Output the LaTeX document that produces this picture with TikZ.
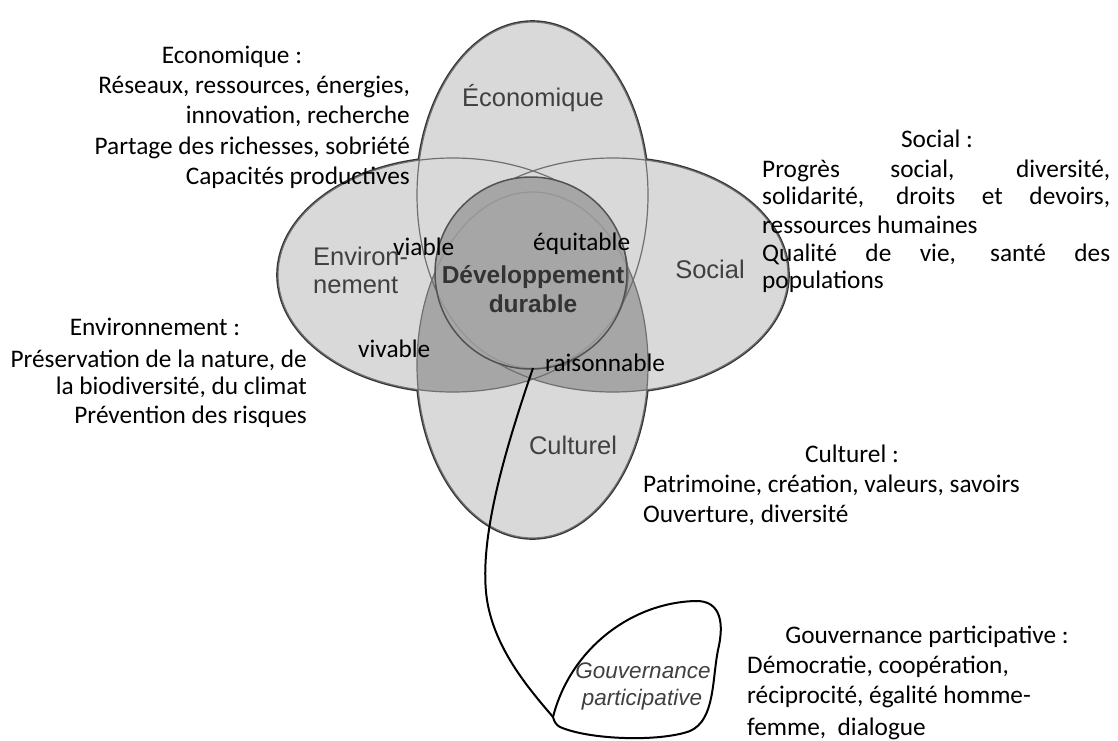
\documentclass[tikz,border=0pt]{standalone}
\usepackage{fontspec}
\setmainfont{Carlito}
\newfontfamily\hv{Liberation Sans}
\definecolor{lightg}{HTML}{D9D9D9}
\definecolor{darkg}{HTML}{A6A6A6}
\definecolor{edgec}{HTML}{333333}
\definecolor{innerc}{HTML}{707070}
\definecolor{lblc}{HTML}{404040}
\begin{document}
\begin{tikzpicture}[x=1pt,y=-1pt,
  econ/.style={insert path={(532.5,195) ellipse [x radius=115.5pt, y radius=173pt]}},
  cult/.style={insert path={(532.5,365) ellipse [x radius=115.5pt, y radius=173pt]}},
  envi/.style={insert path={(453,275) ellipse [x radius=175pt, y radius=117pt]}},
  soci/.style={insert path={(613,275) ellipse [x radius=175pt, y radius=117pt]}},
  dd/.style={insert path={(531,273) circle [radius=96pt]}},
  txt/.style={font=\fontsize{25.3}{30}\selectfont, inner sep=0pt, text=black},
  lab/.style={font=\hv\fontsize{25.5}{28}\selectfont, inner sep=0pt, text=lblc},
  blab/.style={font=\hv\bfseries\fontsize{24.5}{28}\selectfont, inner sep=0pt, text=edgec},
  glab/.style={font=\hv\itshape\fontsize{22.5}{26}\selectfont, inner sep=0pt, text=lblc},
  outer/.style={draw=edgec, line width=3.6pt},
  innerl/.style={draw=innerc, line width=1.2pt},
  stemline/.style={draw=black, line width=2pt}
]
\useasboundingbox (0,0) rectangle (1118,740);
\fill[white] (0,0) rectangle (1118,740);

% outer outlines, then fills hide the inner halves
\path[outer, econ];
\path[outer, cult];
\path[outer, envi];
\path[outer, soci];
\fill[lightg, econ];
\fill[lightg, cult];
\fill[lightg, envi];
\fill[lightg, soci];

% dark region
\begin{scope}
  \clip[cult];
  \fill[darkg, envi];
  \fill[darkg, soci];
\end{scope}

% inner outlines
\path[innerl, econ];
\path[innerl, cult];
\path[innerl, envi];
\path[innerl, soci];

% central circle covers the lines, which show faintly through it
\fill[darkg, dd];
\begin{scope}
  \clip[dd];
  \path[innerl, draw opacity=0.3, econ];
  \path[innerl, draw opacity=0.3, cult];
\end{scope}
\path[draw=edgec!85, line width=1.5pt, dd];

% diagram labels
\node[lab, anchor=base] (leco) at (533,106) {Économique};
\node[lab, anchor=base west] (lenv1) at (313,265) {Environ-};
\node[lab, anchor=base west] (lenv2) at (313,293) {nement};
\node[lab, anchor=base] (lsoc) at (710,278) {Social};
\node[lab, anchor=base] (lcul) at (573,454) {Culturel};
\node[blab, anchor=base] (ldd1) at (533,283) {Développement};
\node[blab, anchor=base] (ldd2) at (533,312) {durable};

\node[txt, anchor=base west] (viable) at (393,255) {viable};
\node[txt, anchor=base west] (equit) at (533,250) {équitable};
\node[txt, anchor=base west] (vivable) at (358,357) {vivable};
\node[txt, anchor=base west] (raison) at (545,371) {raisonnable};

% governance blob and stem
\coordinate (stemtop) at (533,368);
\coordinate (blobtip) at (553,717);
\draw[stemline] (blobtip) .. controls (570,650) and (630,603) .. (695,601)
  .. controls (722,600) and (724,625) .. (718,650)
  .. controls (712,680) and (715,720) .. (690,731)
  .. controls (660,742) and (590,740) .. (560,727)
  .. controls (556,725) and (554,721) .. cycle;
\draw[stemline] (stemtop) .. controls (505,450) and (478,540) .. (487,600)
  .. controls (495,650) and (530,690) .. (blobtip);
\node[glab, anchor=base] (g1) at (643,678) {Gouvernance};
\node[glab, anchor=base] (g2) at (642,705) {participative};

% Economique text
\node[txt, anchor=base] (eh) at (232,63) {Economique :};
\node[txt, anchor=base east] (e1) at (410,93) {Réseaux, ressources, énergies,};
\node[txt, anchor=base east] (e2) at (410,123) {innovation, recherche};
\node[txt, anchor=base east] (e3) at (410,154) {Partage des richesses, sobriété};
\node[txt, anchor=base east] (e4) at (410,184) {Capacités productives};

% Social text
\node[txt, anchor=base] (sh) at (937,147) {Social :};
\node[txt, anchor=base west] (s1) at (762,177) {\makebox[348pt][s]{Progrès social, diversité,}};
\node[txt, anchor=base west] (s2) at (762,204) {\makebox[348pt][s]{solidarité, droits et devoirs,}};
\node[txt, anchor=base west] (s3) at (762,233) {ressources humaines};
\node[txt, anchor=base west] (s4) at (762,261) {\makebox[348pt][s]{Qualité de vie, santé des}};
\node[txt, anchor=base west] (s5) at (762,288) {populations};

% Environnement text
\node[txt, anchor=base] (nh) at (155,335) {Environnement :};
\node[txt, anchor=base east] (n1) at (307,367) {Préservation de la nature, de};
\node[txt, anchor=base east] (n2) at (307,394) {la biodiversité, du climat};
\node[txt, anchor=base east] (n3) at (307,423) {Prévention des risques};

% Culturel text
\node[txt, anchor=base] (ch) at (852,462) {Culturel :};
\node[txt, anchor=base west] (c1) at (643,492) {Patrimoine, création, valeurs, savoirs};
\node[txt, anchor=base west] (c2) at (643,522) {Ouverture, diversité};

% Gouvernance text
\node[txt, anchor=base] (gh) at (927,643) {Gouvernance participative :};
\node[txt, anchor=base west] (gg1) at (747,673) {Démocratie, coopération,};
\node[txt, anchor=base west] (gg2) at (747,703) {réciprocité, égalité homme-};
\node[txt, anchor=base west] (gg3) at (747,735) {femme,\ \ dialogue};
\end{tikzpicture}
\end{document}
